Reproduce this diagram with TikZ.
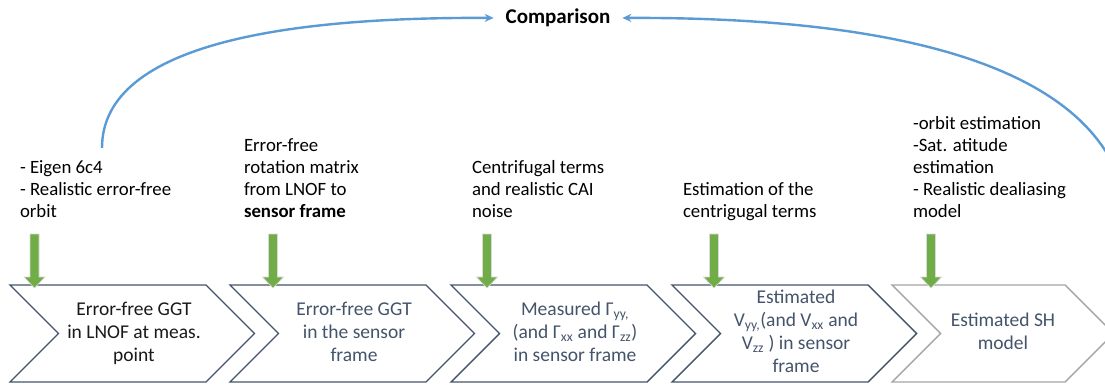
\documentclass[tikz,border=0pt]{standalone}
\usepackage{fontspec}
\setmainfont{Carlito}
\usetikzlibrary{arrows.meta}
\definecolor{slate}{HTML}{44546A}
\definecolor{lgray}{HTML}{A5A5A5}
\definecolor{ggreen}{HTML}{70AD47}
\definecolor{arcblue}{HTML}{5B9BD5}
\definecolor{txtblack}{HTML}{1A1A1A}
\begin{document}
\begin{tikzpicture}[x=1pt,y=-1pt,
  every node/.style={inner sep=0pt, outer sep=0pt},
  toptext/.style={font=\fontsize{18.8}{22}\selectfont, align=left, anchor=south west, text=black},
  chevtext/.style={font=\fontsize{19.5}{23}\selectfont, align=center, text=slate},
  chevline/.style={draw=slate, line width=1.4pt, line join=miter},
  chevlight/.style={draw=lgray, line width=1.4pt, line join=miter},
  garrow/.style={fill=ggreen, draw=white!85!black, line width=0.6pt},
  arcline/.style={draw=arcblue, line width=2.4pt, shorten >=12pt, -{Stealth[length=9pt,width=8pt]}}
]
\useasboundingbox (0,0) rectangle (1105,385);
\fill[white] (0,0) rectangle (1105,385);

% chevrons
\draw[chevline] (10,285) -- ++(196,0) -- ++(48.5,48.5) -- ++(-48.5,48.5) -- ++(-196,0) -- ++(48.5,-48.5) -- cycle;
\draw[chevline] (230,285) -- ++(196,0) -- ++(48.5,48.5) -- ++(-48.5,48.5) -- ++(-196,0) -- ++(48.5,-48.5) -- cycle;
\draw[chevline] (451,285) -- ++(196,0) -- ++(48.5,48.5) -- ++(-48.5,48.5) -- ++(-196,0) -- ++(48.5,-48.5) -- cycle;
\draw[chevline] (672,285) -- ++(196,0) -- ++(48.5,48.5) -- ++(-48.5,48.5) -- ++(-196,0) -- ++(48.5,-48.5) -- cycle;
\draw[chevlight] (892,285) -- ++(173,0) -- ++(48.5,48.5) -- ++(-48.5,48.5) -- ++(-173,0) -- ++(48.5,-48.5) -- cycle;

% chevron texts
\node[chevtext, text=txtblack] (k1) at (134,333.5) {\strut Error-free GGT\\in LNOF at meas.\\point\strut};
\node[chevtext] (k2) at (354,333.5) {\strut Error-free GGT\\in the sensor\\frame\strut};
\node[chevtext] (k3) at (575,333.5) {\strut Measured Γ\textsubscript{yy,}\\(and Γ\textsubscript{xx} and Γ\textsubscript{zz})\\in sensor frame\strut};
\node[chevtext] (k4) at (796,333.5) {\strut Estimated\\V\textsubscript{yy,}(and V\textsubscript{xx} and\\V\textsubscript{zz} ) in sensor\\frame\strut};
\node[chevtext] (k5) at (1003,333.5) {\strut Estimated SH\\model\strut};

% green arrows
\foreach \x [count=\i] in {34.5,273,487,714,931}{
  \coordinate (g\i) at (\x,288);
  \filldraw[garrow] (g\i) -- ++(-10.5,-11) -- ++(6,0) -- ++(0,-43) -- ++(9,0) -- ++(0,43) -- ++(6,0) -- cycle;
}

% top texts
\node[toptext] (t1) at (20,223.6) {- Eigen 6c4\\- Realistic error-free\\orbit\strut};
\node[toptext] (t2) at (244,223.6) {Error-free\\rotation matrix\\from LNOF to\\\textbf{sensor frame}\strut};
\node[toptext] (t3) at (472,223.6) {Centrifugal terms\\and realistic CAI\\noise\strut};
\node[toptext] (t4) at (683,223.6) {Estimation of the\\centrigugal terms\strut};
\node[toptext] (t5) at (913,223.6) {-orbit estimation\\-Sat. atitude\\estimation\\- Realistic dealiasing\\model\strut};

% comparison
\node[font=\fontsize{21}{24}\selectfont\bfseries] (cmp) at (558,18) {Comparison};
\coordinate (aL) at (102,148);
\coordinate (aR) at (1108,155);
\draw[arcline] (aL) .. controls (102,40) and (300,17) .. (cmp.west);
\draw[arcline] (aR) .. controls (1045,50) and (850,17) .. (cmp.east);
\end{tikzpicture}
\end{document}
